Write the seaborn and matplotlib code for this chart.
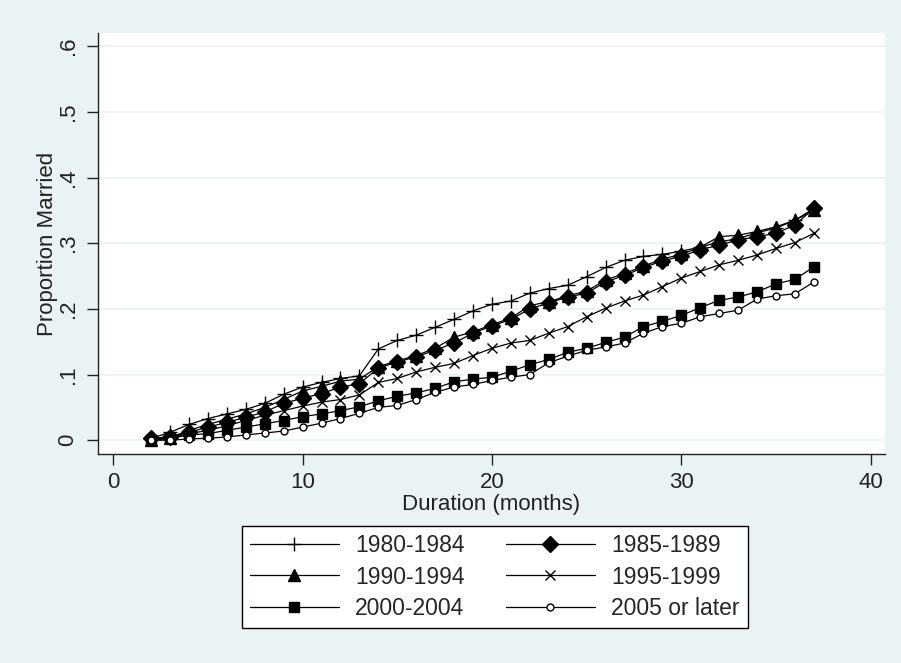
import numpy as np
import pandas as pd
import seaborn as sns
from matplotlib import pyplot as plt

months = list(range(2, 38))

c1980 = [0.003, 0.012, 0.024, 0.033, 0.040, 0.047, 0.056, 0.070, 0.081, 0.088, 0.094, 0.098,
         0.139, 0.152, 0.160, 0.172, 0.184, 0.197, 0.207, 0.212, 0.224, 0.231, 0.236, 0.249,
         0.263, 0.274, 0.280, 0.283, 0.288, 0.294, 0.302, 0.307, 0.316, 0.323, 0.335, 0.353]
c1985 = [0.003, 0.005, 0.012, 0.020, 0.027, 0.035, 0.043, 0.056, 0.064, 0.071, 0.081, 0.086,
         0.110, 0.119, 0.127, 0.137, 0.148, 0.163, 0.174, 0.184, 0.200, 0.209, 0.218, 0.224,
         0.241, 0.251, 0.263, 0.273, 0.280, 0.290, 0.297, 0.305, 0.310, 0.315, 0.328, 0.353]
c1990 = [0.000, 0.004, 0.015, 0.024, 0.032, 0.040, 0.050, 0.062, 0.075, 0.082, 0.090, 0.093,
         0.112, 0.121, 0.129, 0.140, 0.157, 0.165, 0.176, 0.186, 0.205, 0.211, 0.220, 0.227,
         0.244, 0.254, 0.265, 0.276, 0.283, 0.294, 0.310, 0.312, 0.318, 0.325, 0.335, 0.350]
c1995 = [0.000, 0.004, 0.010, 0.015, 0.022, 0.030, 0.038, 0.045, 0.052, 0.058, 0.062, 0.069,
         0.088, 0.094, 0.104, 0.111, 0.117, 0.129, 0.140, 0.148, 0.152, 0.163, 0.173, 0.188,
         0.201, 0.212, 0.221, 0.234, 0.247, 0.257, 0.267, 0.274, 0.282, 0.292, 0.301, 0.315]
c2000 = [0.000, 0.003, 0.008, 0.010, 0.015, 0.020, 0.025, 0.030, 0.036, 0.040, 0.045, 0.051,
         0.060, 0.067, 0.072, 0.079, 0.089, 0.093, 0.096, 0.105, 0.115, 0.123, 0.134, 0.140,
         0.149, 0.157, 0.173, 0.181, 0.190, 0.202, 0.213, 0.218, 0.226, 0.238, 0.245, 0.264]
c2005 = [0.000, 0.000, 0.002, 0.003, 0.005, 0.008, 0.011, 0.014, 0.020, 0.026, 0.033, 0.041,
         0.050, 0.053, 0.062, 0.073, 0.081, 0.085, 0.091, 0.096, 0.100, 0.118, 0.128, 0.137,
         0.142, 0.148, 0.163, 0.173, 0.178, 0.188, 0.193, 0.198, 0.215, 0.220, 0.223, 0.241]

cohorts = ['1980-1984', '1985-1989', '1990-1994', '1995-1999', '2000-2004', '2005 or later']
series = [c1980, c1985, c1990, c1995, c2000, c2005]

# marker, size, face colour for each cohort
styles = [('+', 10, 'black'), ('D', 8.5, 'black'), ('^', 8.5, 'black'),
          ('x', 7.5, 'black'), ('s', 7.5, 'black'), ('o', 5, 'white')]

bg = '#eaf2f3'
sns.set_style('ticks')
plt.rcParams['font.family'] = ['Liberation Sans', 'DejaVu Sans']
fs = 16

fig = plt.figure(figsize=(9.01, 6.63), dpi=100, facecolor=bg)
ax = fig.add_axes([0.1088, 0.3152, 0.8734, 0.635])
ax.set_facecolor('white')

for name, vals, (mk, ms, fc) in zip(cohorts, series, styles):
    sns.lineplot(x=months, y=vals, ax=ax, color='black', linewidth=0.9,
                 marker=mk, markersize=ms, markerfacecolor=fc,
                 markeredgecolor='black', markeredgewidth=1.0, label=name)

ax.set_xlim(-0.8, 40.75)
ax.set_ylim(-0.021, 0.62)
ax.set_xticks([0, 10, 20, 30, 40])
ax.set_yticks([0, 0.1, 0.2, 0.3, 0.4, 0.5, 0.6])
ax.set_yticklabels(['0', '.1', '.2', '.3', '.4', '.5', '.6'], rotation=90, va='center')
ax.grid(axis='y', color=bg, linewidth=1.2)
ax.set_axisbelow(True)

for s in ['top', 'right']:
    ax.spines[s].set_visible(False)
for s in ['left', 'bottom']:
    ax.spines[s].set_color('#222222')
    ax.spines[s].set_linewidth(1.0)

ax.tick_params(axis='both', labelsize=fs, colors='#222222', length=8, width=1.0)
ax.tick_params(axis='y', pad=6)
ax.tick_params(axis='x', pad=5)
ax.set_xlabel('Duration (months)', fontsize=fs, color='#222222', labelpad=1)
ax.set_ylabel('Proportion Married', fontsize=fs, color='#222222', labelpad=0)

h, l = ax.get_legend_handles_labels()
ax.get_legend().remove()
order = [0, 2, 4, 1, 3, 5]
leg = fig.legend([h[i] for i in order], [l[i] for i in order], ncol=2,
                 loc='center', bbox_to_anchor=(0.549, 0.1297), fontsize=16.5,
                 frameon=True, fancybox=False, edgecolor='black', framealpha=1,
                 handlelength=3.9, handletextpad=0.7, columnspacing=1.8,
                 labelspacing=0.36, borderpad=0.35, borderaxespad=0)
leg.get_frame().set_linewidth(1.0)

plt.savefig('out.png', dpi=100, facecolor=bg)
